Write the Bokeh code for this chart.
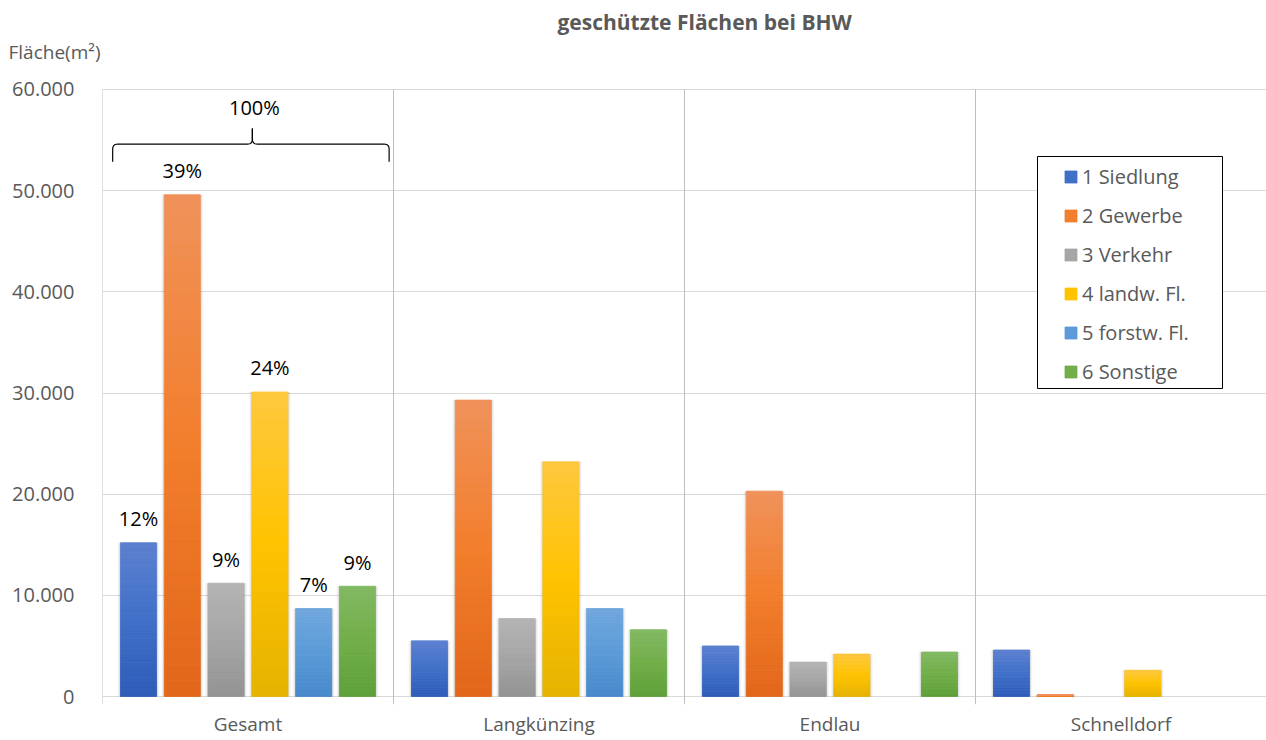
import numpy as np
from bokeh.plotting import figure
from bokeh.models import (Range1d, FixedTicker, Legend, LegendItem, BoxAnnotation, Label, Title)
from bokeh.embed import file_html
from bokeh.resources import INLINE

# ---------------- data ----------------
categories = ["Gesamt", "Langkünzing", "Endlau", "Schnelldorf"]
series_names = ["1 Siedlung", "2 Gewerbe", "3 Verkehr", "4 landw. Fl.", "5 forstw. Fl.", "6 Sonstige"]
siedlung = [15200, 5500, 5000, 4600]
gewerbe = [49600, 29300, 20300, 150]
verkehr = [11200, 7700, 3400, 0]
landw = [30100, 23200, 4200, 2600]
forstw = [8700, 8700, 0, 0]
sonstige = [10900, 6600, 4400, 0]
y_ticks = [0, 10000, 20000, 30000, 40000, 50000, 60000]
y_tick_labels = ["0", "10.000", "20.000", "30.000", "40.000", "50.000", "60.000"]
total_label = "100%"

series_values = [siedlung, gewerbe, verkehr, landw, forstw, sonstige]

# ---------------- style ----------------
FONT = "Open Sans"
GREY_TXT = "#595959"
# gradient stops (bottom, middle, top)
grad = [
    ("#2E5CB8", "#4070C8", "#5C80D0"),
    ("#E2661A", "#F27E2C", "#F0925A"),
    ("#939393", "#A6A6A6", "#B4B4B4"),
    ("#E5B200", "#FFC300", "#FEC83E"),
    ("#4789CB", "#5B9BD8", "#70A7DD"),
    ("#5EA03A", "#71AE48", "#82B963"),
]
N_SLICES = 32
BAR_W = 0.124
STEP = 0.1505
Y_MIN, Y_MAX = -790, 62372


def hex2rgb(h):
    h = h.lstrip("#")
    return np.array([int(h[i:i + 2], 16) for i in (0, 2, 4)], dtype=float)


def mix(stops, t):
    b, m, tp = (hex2rgb(s) for s in stops)
    if t < 0.5:
        c = b + (m - b) * (t / 0.5)
    else:
        c = m + (tp - m) * ((t - 0.5) / 0.5)
    return "#%02x%02x%02x" % tuple(int(round(v)) for v in c)


p = figure(width=1266, height=740, output_backend="svg", toolbar_location=None, title=None,
           x_range=Range1d(0, len(categories)), y_range=Range1d(Y_MIN, Y_MAX),
           min_border_left=102, min_border_right=0, min_border_top=65, min_border_bottom=36)
p.outline_line_color = None
p.background_fill_color = "white"
p.border_fill_color = "white"

# grid
p.xgrid.visible = False
p.ygrid.ticker = FixedTicker(ticks=y_ticks)
p.ygrid.grid_line_color = "#d9d9d9"
p.ygrid.grid_line_width = 1

# y axis
p.yaxis.ticker = FixedTicker(ticks=y_ticks)
p.yaxis.major_label_overrides = {t: l for t, l in zip(y_ticks, y_tick_labels)}
p.yaxis.axis_line_color = None
p.yaxis.major_tick_line_color = None
p.yaxis.minor_tick_line_color = None
p.yaxis.major_tick_in = 0
p.yaxis.major_tick_out = 0
p.yaxis.major_label_standoff = 28
p.yaxis.major_label_text_font = FONT
p.yaxis.major_label_text_font_size = "20px"
p.yaxis.major_label_text_color = GREY_TXT

# x axis
x_centers = [i + 0.5 for i in range(len(categories))]
p.xaxis.ticker = FixedTicker(ticks=x_centers)
p.xaxis.major_label_overrides = {c: n for c, n in zip(x_centers, categories)}
p.xaxis.axis_line_color = None
p.xaxis.major_tick_line_color = None
p.xaxis.minor_tick_line_color = None
p.xaxis.major_tick_in = 0
p.xaxis.major_tick_out = 0
p.xaxis.major_label_standoff = 6
p.xaxis.major_label_text_font = FONT
p.xaxis.major_label_text_font_size = "19px"
p.xaxis.major_label_text_color = GREY_TXT

# category separators
sep_x = list(range(len(categories)))
p.segment(x0=sep_x, x1=sep_x, y0=[Y_MIN] * len(sep_x), y1=[y_ticks[-1]] * len(sep_x),
          line_color="#bfbfbf", line_width=1)

# soft shadows behind the bars
for si, vals in enumerate(series_values):
    xs = [ci + 0.5 + (si - 2.5) * STEP for ci, v in enumerate(vals) if v > 0]
    ts = [v for v in vals if v > 0]
    for extra, alpha in ((6.0, 0.035), (3.5, 0.05), (1.8, 0.07)):
        p.vbar(x=xs, width=BAR_W + extra / 291.0, bottom=0, top=ts,
               fill_color="black", fill_alpha=alpha, line_color=None)

# bars (vertical gradient drawn as stacked slices)
renderers = []
for si, vals in enumerate(series_values):
    xs, bots, tops, cols = [], [], [], []
    for ci, v in enumerate(vals):
        if v <= 0:
            continue
        xc = ci + 0.5 + (si - 2.5) * STEP
        for j in range(N_SLICES):
            xs.append(xc)
            bots.append(v * j / N_SLICES)
            tops.append(v * (j + 1) / N_SLICES)
            cols.append(mix(grad[si], (j + 0.5) / N_SLICES))
    r = p.vbar(x=xs, width=BAR_W, bottom=bots, top=tops, fill_color=cols,
               line_color=cols, line_width=0.8)
    renderers.append(r)

# percentage labels for "Gesamt"
gesamt = [vals[0] for vals in series_values]
total = sum(gesamt)
pct_text = ["%d%%" % round(v / total * 100) for v in gesamt]
pct_x = [0.5 + (si - 2.5) * STEP for si in range(len(gesamt))]
p.text(x=pct_x, y=gesamt, text=pct_text, text_align="center", text_baseline="alphabetic",
       y_offset=-24, text_font={"value": FONT}, text_font_size="20px", text_color="black")

# brace over the "Gesamt" group
bx0, bx1, bxm = 0.035, 0.985, 0.515
by, drop, rise = 54600, 1750, 1550
rx, ry = 0.0172, 500


def qbez(p0, p1, p2, n=8):
    t = np.linspace(0, 1, n)
    xs = (1 - t) ** 2 * p0[0] + 2 * (1 - t) * t * p1[0] + t ** 2 * p2[0]
    ys = (1 - t) ** 2 * p0[1] + 2 * (1 - t) * t * p1[1] + t ** 2 * p2[1]
    return list(xs), list(ys)


def half(xend, sgn):
    xs, ys = [xend, xend], [by - drop, by - ry]
    cx, cy = qbez((xend, by - ry), (xend, by), (xend + sgn * rx, by))
    xs += cx; ys += cy
    xs += [bxm - sgn * rx]; ys += [by]
    cx, cy = qbez((bxm - sgn * rx, by), (bxm, by), (bxm, by + ry))
    xs += cx; ys += cy
    xs += [bxm]; ys += [by + rise]
    return xs, ys


lx, ly = half(bx0, 1)
rxs, rys = half(bx1, -1)
p.multi_line(xs=[lx, rxs], ys=[ly, rys], line_color="black", line_width=1.2)
p.add_layout(Label(x=bxm + 0.007, y=58190, text=total_label, text_align="center",
                   text_baseline="alphabetic", text_font=FONT, text_font_size="20px",
                   text_color="black"))

# legend box
p.add_layout(BoxAnnotation(left=935, right=1120, bottom=316, top=548,
                           left_units="screen", right_units="screen",
                           top_units="screen", bottom_units="screen",
                           fill_color="white", fill_alpha=1.0,
                           line_color="black", line_width=1, line_alpha=1.0))

items = [LegendItem(label=n, renderers=[r], index=N_SLICES // 2)
         for n, r in zip(series_names, renderers)]
legend = Legend(items=items, location=(961, 319), orientation="vertical",
                border_line_color=None, background_fill_alpha=0,
                glyph_width=15, glyph_height=15, label_height=26, spacing=12,
                padding=5, margin=0, label_standoff=4,
                label_text_font=FONT, label_text_font_size="20px",
                label_text_color=GREY_TXT)
p.add_layout(legend, "center")

# axis caption (nearest to the frame) and chart title above it
p.add_layout(Title(text="Fläche(m²)", align="left", offset=-94, vertical_align="bottom",
                   standoff=1, text_font=FONT, text_font_size="19px",
                   text_font_style="normal", text_color=GREY_TXT), "above")
p.add_layout(Title(text="geschützte Flächen bei BHW", align="left", offset=455,
                   vertical_align="bottom", standoff=1, text_font=FONT,
                   text_font_size="21px", text_font_style="bold", text_color=GREY_TXT), "above")

open("out.html", "w").write(file_html(p, INLINE))
